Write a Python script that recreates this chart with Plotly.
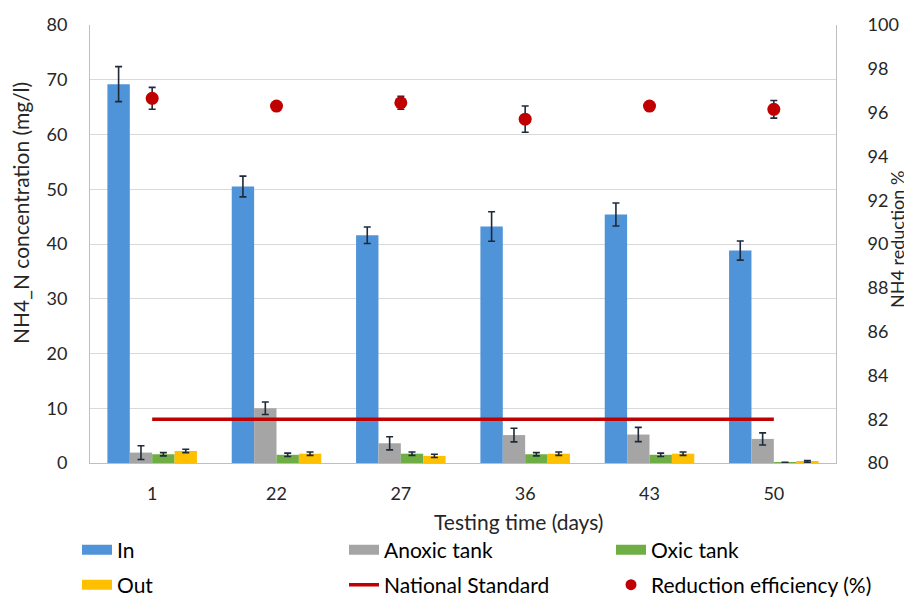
import plotly.graph_objects as go

categories = ["1", "22", "27", "36", "43", "50"]
in_vals = [69.2, 50.5, 41.6, 43.2, 45.4, 38.8]
in_err = [3.2, 1.9, 1.5, 2.7, 2.1, 1.75]
anoxic_vals = [1.9, 10.0, 3.6, 5.1, 5.2, 4.4]
anoxic_err = [1.25, 1.15, 1.2, 1.25, 1.3, 1.1]
oxic_vals = [1.6, 1.5, 1.7, 1.6, 1.5, 0.1]
oxic_err = [0.3, 0.3, 0.3, 0.3, 0.3, 0.05]
out_vals = [2.2, 1.7, 1.3, 1.7, 1.7, 0.3]
out_err = [0.3, 0.3, 0.3, 0.3, 0.3, 0.15]
national_standard = [8, 8, 8, 8, 8, 8]
reduction = [96.65, 96.3, 96.45, 95.7, 96.3, 96.15]
reduction_err = [0.5, 0, 0.3, 0.6, 0, 0.4]

FONT = "Lato, 'Open Sans', sans-serif"
TXT = "#262626"
ERR = "#1f2a38"

bar_series = [
    ("In", in_vals, in_err, "#4f93d8", "legend"),
    ("Anoxic tank", anoxic_vals, anoxic_err, "#a5a5a5", "legend"),
    ("Oxic tank", oxic_vals, oxic_err, "#6fae44", "legend"),
    ("Out", out_vals, out_err, "#ffc000", "legend2"),
]

fig = go.Figure()
for name, vals, err, color, _ in bar_series:
    fig.add_trace(go.Bar(
        x=categories, y=vals, name=name, showlegend=False,
        marker=dict(color=color, line=dict(width=0)),
        error_y=dict(type="data", array=err, visible=True, color=ERR, thickness=1.6, width=3.5),
    ))

fig.add_trace(go.Scatter(
    x=categories, y=national_standard, mode="lines", showlegend=False,
    line=dict(color="#c00000", width=3.5), name="National Standard",
))

fig.add_trace(go.Scatter(
    x=categories, y=reduction, mode="markers", yaxis="y2", showlegend=False,
    marker=dict(color="#c00000", size=13),
    error_y=dict(type="data", array=reduction_err, visible=True, color=ERR, thickness=1.6, width=3.5),
    name="Reduction efficiency (%)",
))

# legend-only entries (no data points)
for name, vals, err, color, lg in bar_series:
    fig.add_trace(go.Scatter(x=[None], y=[None], mode="lines", name=name, legend=lg,
                             line=dict(color=color, width=11)))
fig.add_trace(go.Scatter(x=[None], y=[None], mode="lines", name="National Standard", legend="legend2",
                         line=dict(color="#c00000", width=3.5)))
fig.add_trace(go.Scatter(x=[None], y=[None], mode="markers", name="Reduction efficiency (%)", legend="legend2",
                         marker=dict(color="#c00000", size=11)))

# page body has an 8px margin: the figure starts at (8, 8) in the window
OFF = 8
W, H = 912 - 2 * OFF, 597 - OFF
L, T = 90 - OFF, 25 - OFF
R = (OFF + W) - 836
B = (OFF + H) - 463
pw, ph = W - L - R, H - T - B

def px_x(p):
    return (p - OFF - L) / pw

def px_y(p):
    return (H - B - (p - OFF)) / ph

legend_common = dict(
    orientation="h", xanchor="left", yanchor="middle",
    entrywidth=222, entrywidthmode="pixels",
    font=dict(family=FONT, size=21, color="#000000"),
    bgcolor="rgba(0,0,0,0)", traceorder="normal",
)

fig.update_layout(
    width=W, height=H,
    margin=dict(l=L, r=R, t=T, b=B, autoexpand=False),
    paper_bgcolor="white", plot_bgcolor="white",
    font=dict(family=FONT, size=17, color=TXT),
    barmode="group", bargap=0.28, bargroupgap=0,
    xaxis=dict(
        type="category", showgrid=False, showline=True, linecolor="#bfbfbf", linewidth=1,
        ticks="", ticklabelstandoff=14, tickfont=dict(size=18, color=TXT),
    ),
    yaxis=dict(
        range=[0, 80], dtick=10, showgrid=True, gridcolor="#d9d9d9", gridwidth=1,
        showline=True, linecolor="#bfbfbf", linewidth=1, zeroline=False,
        ticks="", ticklabelstandoff=18, tickfont=dict(size=18, color=TXT),
    ),
    yaxis2=dict(
        range=[80, 100], dtick=2, overlaying="y", side="right", showgrid=False,
        showline=True, linecolor="#bfbfbf", linewidth=1, zeroline=False,
        ticks="", ticklabelstandoff=27, tickfont=dict(size=18, color=TXT),
    ),
    legend=dict(x=px_x(77), y=px_y(550), **legend_common),
    legend2=dict(x=px_x(77), y=px_y(585), **legend_common),
    annotations=[
        dict(text="NH4_N concentration (mg/l)", textangle=-90, xref="paper", yref="paper",
             x=px_x(20), y=px_y(213), xanchor="center", yanchor="middle", showarrow=False,
             font=dict(size=21, color=TXT, family=FONT)),
        dict(text="NH4 reduction %", textangle=-90, xref="paper", yref="paper",
             x=px_x(897), y=px_y(240), xanchor="center", yanchor="middle", showarrow=False,
             font=dict(size=18, color=TXT, family=FONT)),
        dict(text="Testing time (days)", xref="paper", yref="paper",
             x=px_x(518), y=px_y(521), xanchor="center", yanchor="middle", showarrow=False,
             font=dict(size=21, color=TXT, family=FONT)),
    ],
)

fig.write_html("out.html")
